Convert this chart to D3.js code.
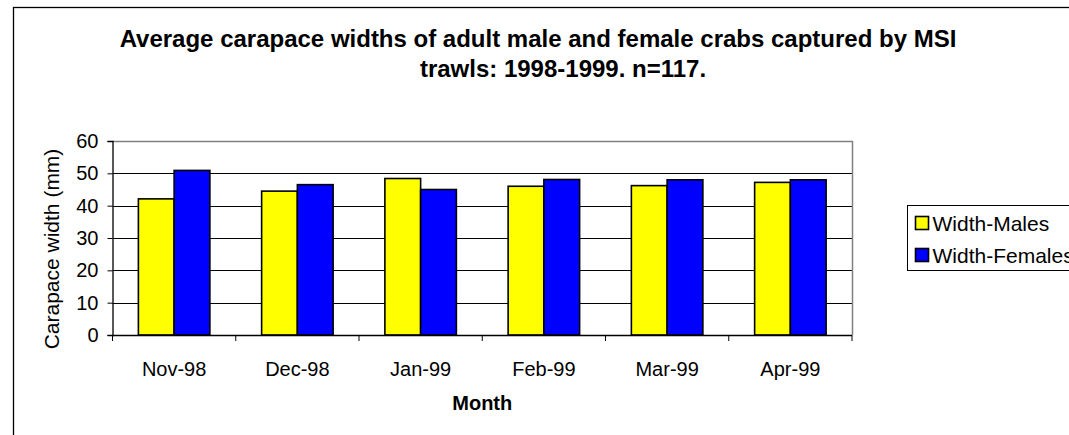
<!DOCTYPE html>
<html>
<head>
<meta charset="utf-8">
<script src="https://cdn.jsdelivr.net/npm/d3@7"></script>
<style>
  body { margin: 0; background: #fff; }
  svg { display: block; font-family: "Liberation Sans", Arial, sans-serif; }
</style>
</head>
<body>
<div class="chart"></div>
<script>
// data
var months = ['Nov-98', 'Dec-98', 'Jan-99', 'Feb-99', 'Mar-99', 'Apr-99'];
var seriesNames = ['Width-Males', 'Width-Females'];
var males = [42.1, 44.5, 48.4, 46.0, 46.2, 47.2];
var females = [50.9, 46.5, 45.0, 48.1, 48.0, 48.0];
var yTicks = [0, 10, 20, 30, 40, 50, 60];
var colors = ['#ffff00', '#0000ff'];

var opts = {
  width: 1069,
  height: 435,
  left: 112.5,
  right: 852,
  top: 141,
  bottom: 335
};

var rows = months.map(function(m, i) {
  return { month: m, values: [males[i], females[i]] };
});

var svg = d3.select('.chart').append('svg')
  .attr('width', opts.width)
  .attr('height', opts.height);

// chart area border (runs off the picture to the right and bottom)
svg.append('rect')
  .attr('x', 13.5).attr('y', 7.5)
  .attr('width', 1200).attr('height', 1000)
  .attr('fill', 'white')
  .attr('stroke', '#000').attr('stroke-width', 1.3);

var x0 = d3.scaleBand().domain(months).range([opts.left, opts.right])
  .paddingInner(0.42).paddingOuter(0.21);
var x1 = d3.scaleBand().domain(seriesNames).range([0, x0.bandwidth()]);
var y = d3.scaleLinear().domain([0, 60]).range([opts.bottom, opts.top]);

// gridlines
svg.append('g').selectAll('line')
  .data(yTicks.filter(function(t) { return t > 0 && t < 60; }))
  .enter().append('line')
  .attr('x1', opts.left).attr('x2', opts.right)
  .attr('y1', function(d) { return Math.round(y(d)) + 0.5; })
  .attr('y2', function(d) { return Math.round(y(d)) + 0.5; })
  .attr('stroke', '#000').attr('stroke-width', 1);

// plot area border, top and right in grey
svg.append('path')
  .attr('d', 'M' + opts.left + ',' + (opts.top + 0.5) + 'H' + (opts.right + 0.5) + 'V' + opts.bottom)
  .attr('fill', 'none').attr('stroke', '#808080').attr('stroke-width', 1.5);

// bars
var groups = svg.append('g').selectAll('g')
  .data(rows).enter().append('g')
  .attr('transform', function(d) { return 'translate(' + x0(d.month) + ',0)'; });

groups.selectAll('rect')
  .data(function(d) { return d.values.map(function(v, i) { return { key: seriesNames[i], value: v, i: i }; }); })
  .enter().append('rect')
  .attr('x', function(d) { return x1(d.key); })
  .attr('y', function(d) { return y(d.value); })
  .attr('width', x1.bandwidth())
  .attr('height', function(d) { return y(0) - y(d.value); })
  .attr('fill', function(d) { return colors[d.i]; })
  .attr('stroke', '#000').attr('stroke-width', 1.6);

// y axis
var yAxis = d3.axisLeft(y).tickValues(yTicks).tickSize(5).tickPadding(9);
var gy = svg.append('g').attr('transform', 'translate(' + opts.left + ',0)').call(yAxis);
gy.select('.domain').attr('stroke', '#000').attr('stroke-width', 1.3);
gy.selectAll('.tick line').attr('stroke', '#000');
gy.selectAll('text').attr('font-size', 20).attr('fill', '#000')
  .attr('font-family', '"Liberation Sans", Arial, sans-serif');

// x axis: ticks between categories
var xEdges = d3.range(months.length + 1).map(function(i) {
  return opts.left + i * (opts.right - opts.left) / months.length;
});
var gx = svg.append('g');
gx.append('line')
  .attr('x1', opts.left).attr('x2', opts.right)
  .attr('y1', opts.bottom + 0.5).attr('y2', opts.bottom + 0.5)
  .attr('stroke', '#000').attr('stroke-width', 1.3);
gx.selectAll('.xt').data(xEdges).enter().append('line')
  .attr('class', 'xt')
  .attr('x1', function(d) { return d; }).attr('x2', function(d) { return d; })
  .attr('y1', opts.bottom).attr('y2', opts.bottom + 6)
  .attr('stroke', '#000');
gx.selectAll('text').data(months).enter().append('text')
  .attr('x', function(d) { return x0(d) + x0.bandwidth() / 2; })
  .attr('y', 376)
  .attr('text-anchor', 'middle')
  .attr('font-size', 20)
  .text(function(d) { return d; });

// axis titles
svg.append('text')
  .attr('x', (opts.left + opts.right) / 2).attr('y', 410)
  .attr('text-anchor', 'middle')
  .attr('font-size', 20).attr('font-weight', 'bold')
  .text('Month');

svg.append('text')
  .attr('transform', 'translate(59,' + 249 + ') rotate(-90)')
  .attr('text-anchor', 'middle')
  .attr('font-size', 21)
  .text('Carapace width (mm)');

// title
var title = svg.append('text')
  .attr('text-anchor', 'middle')
  .attr('font-size', 24).attr('font-weight', 'bold');
title.append('tspan').attr('x', 538).attr('y', 47)
  .text('Average carapace widths of adult male and female crabs captured by MSI');
title.append('tspan').attr('x', 563).attr('y', 77)
  .text('trawls: 1998-1999. n=117.');

// legend
var legend = svg.append('g').attr('transform', 'translate(907.5,205.5)');
legend.append('rect')
  .attr('width', 300).attr('height', 65)
  .attr('fill', 'white').attr('stroke', '#000').attr('stroke-width', 1);
var items = legend.selectAll('g.item').data(seriesNames).enter().append('g')
  .attr('class', 'item')
  .attr('transform', function(d, i) { return 'translate(8,' + (11 + i * 32) + ')'; });
items.append('rect')
  .attr('width', 13).attr('height', 13)
  .attr('fill', function(d, i) { return colors[i]; })
  .attr('stroke', '#000').attr('stroke-width', 1.6);
items.append('text')
  .attr('x', 17).attr('y', 14)
  .attr('font-size', 21)
  .text(function(d) { return d; });
</script>
</body>
</html>
